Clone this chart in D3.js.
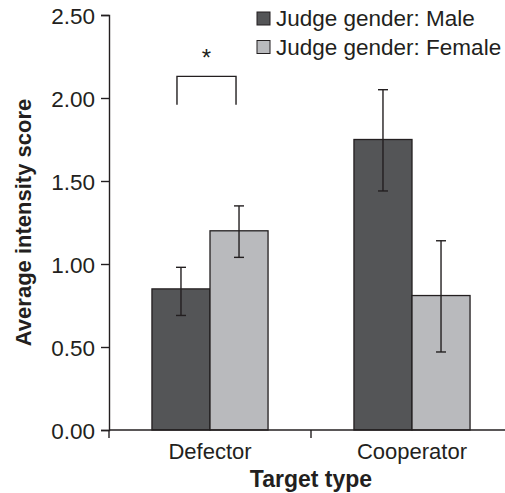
<!DOCTYPE html>
<html>
<head>
<meta charset="utf-8">
<script src="https://cdn.jsdelivr.net/npm/d3@7"></script>
<style>
  body { margin: 0; background: #fff; }
  text { font-family: "Liberation Sans", Arial, Helvetica, sans-serif; fill: #231f20; }
</style>
</head>
<body>
<script>
const categories = ["Defector", "Cooperator"];
const groups = ["Judge gender: Male", "Judge gender: Female"];
const maleValues = [0.85, 1.75];
const femaleValues = [1.20, 0.81];
const maleErrLow = [0.69, 1.44];
const maleErrHigh = [0.98, 2.05];
const femaleErrLow = [1.04, 0.47];
const femaleErrHigh = [1.35, 1.14];
const yTicks = [0, 0.5, 1.0, 1.5, 2.0, 2.5];
const bracketRange = [1.96, 2.13];
const colors = ["#545557", "#b9babd"];

const width = 505, height = 493;
const margin = {top: 15, right: -8, bottom: 63, left: 109};

let rows = [];
categories.forEach((c, i) => {
    rows.push({cat: c, group: groups[0], value: maleValues[i], lo: maleErrLow[i], hi: maleErrHigh[i]});
    rows.push({cat: c, group: groups[1], value: femaleValues[i], lo: femaleErrLow[i], hi: femaleErrHigh[i]});
});

let svg = d3.select("body")
    .append("svg")
    .attr("width", width)
    .attr("height", height);

let xScale = d3.scaleBand()
    .domain(categories)
    .range([margin.left, width - margin.right])
    .padding(0);

let x1 = d3.scaleBand()
    .domain(groups)
    .range([0, xScale.bandwidth()])
    .paddingInner(0)
    .paddingOuter(0.74);

let yScale = d3.scaleLinear()
    .domain([0, 2.5])
    .range([height - margin.bottom, margin.top]);

let color = d3.scaleOrdinal().domain(groups).range(colors);

// bars
svg.selectAll("rect.bar")
    .data(rows)
    .enter()
    .append("rect")
    .attr("class", "bar")
    .attr("x", d => xScale(d.cat) + x1(d.group))
    .attr("y", d => yScale(d.value))
    .attr("width", x1.bandwidth())
    .attr("height", d => yScale(0) - yScale(d.value))
    .attr("fill", d => color(d.group))
    .attr("stroke", "#231f20")
    .attr("stroke-width", 1.3);

// error bars
let cap = 5;
let eb = svg.selectAll("g.err")
    .data(rows)
    .enter()
    .append("g")
    .attr("class", "err")
    .attr("stroke", "#231f20")
    .attr("stroke-width", 1.4);
eb.append("line")
    .attr("x1", d => xScale(d.cat) + x1(d.group) + x1.bandwidth() / 2)
    .attr("x2", d => xScale(d.cat) + x1(d.group) + x1.bandwidth() / 2)
    .attr("y1", d => yScale(d.lo))
    .attr("y2", d => yScale(d.hi));
eb.selectAll("line.cap")
    .data(d => [d.lo, d.hi].map(v => ({d: d, v: v})))
    .enter()
    .append("line")
    .attr("class", "cap")
    .attr("x1", e => xScale(e.d.cat) + x1(e.d.group) + x1.bandwidth() / 2 - cap)
    .attr("x2", e => xScale(e.d.cat) + x1(e.d.group) + x1.bandwidth() / 2 + cap)
    .attr("y1", e => yScale(e.v))
    .attr("y2", e => yScale(e.v));

// y axis
let yAxis = svg.append("g")
    .attr("transform", "translate(" + margin.left + ",0)")
    .call(d3.axisLeft(yScale).tickValues(yTicks).tickFormat(d3.format(".2f")).tickSize(8).tickPadding(6));
yAxis.selectAll("path, line").attr("stroke", "#231f20").attr("stroke-width", 1.4);
yAxis.selectAll("text").style("font-size", "22.5px").attr("dy", "0.36em").attr("fill", "#231f20");

// x axis
let y0 = yScale(0);
svg.append("line")
    .attr("x1", margin.left).attr("x2", width - margin.right)
    .attr("y1", y0).attr("y2", y0)
    .attr("stroke", "#231f20").attr("stroke-width", 1.4);
svg.selectAll("line.xtick")
    .data(categories)
    .enter()
    .append("line")
    .attr("class", "xtick")
    .attr("x1", d => xScale(d)).attr("x2", d => xScale(d))
    .attr("y1", y0).attr("y2", y0 + 8)
    .attr("stroke", "#231f20").attr("stroke-width", 1.4);
svg.selectAll("text.xlabel")
    .data(categories)
    .enter()
    .append("text")
    .attr("class", "xlabel")
    .attr("x", d => xScale(d) + xScale.bandwidth() / 2)
    .attr("y", y0 + 29)
    .attr("text-anchor", "middle")
    .style("font-size", "22px")
    .text(d => d);

// axis titles
svg.append("text")
    .attr("x", (margin.left + width - margin.right) / 2)
    .attr("y", 487)
    .attr("text-anchor", "middle")
    .style("font-size", "23px")
    .style("font-weight", "bold")
    .text("Target type");

svg.append("text")
    .attr("transform", "translate(31," + (yScale(0) + yScale(2.5)) / 2 + ") rotate(-90)")
    .attr("text-anchor", "middle")
    .style("font-size", "22px")
    .style("font-weight", "bold")
    .text("Average intensity score");

// significance bracket
let bx1 = xScale(categories[0]) + x1(groups[0]) + x1.bandwidth() / 2 - 4;
let bx2 = xScale(categories[0]) + x1(groups[1]) + x1.bandwidth() / 2 - 3;
svg.append("path")
    .attr("d", "M" + bx1 + "," + yScale(bracketRange[0]) + "V" + yScale(bracketRange[1]) +
        "H" + bx2 + "V" + yScale(bracketRange[0]))
    .attr("fill", "none")
    .attr("stroke", "#231f20")
    .attr("stroke-width", 1.4);
svg.append("text")
    .attr("x", (bx1 + bx2) / 2)
    .attr("y", yScale(bracketRange[1]) - 10)
    .attr("text-anchor", "middle")
    .style("font-size", "24px")
    .text("*");

// legend
let legend = svg.selectAll("g.legend")
    .data(groups)
    .enter()
    .append("g")
    .attr("class", "legend")
    .attr("transform", (d, i) => "translate(257," + (12 + i * 28.5) + ")");
legend.append("rect")
    .attr("width", 13)
    .attr("height", 13)
    .attr("fill", d => color(d))
    .attr("stroke", "#231f20")
    .attr("stroke-width", 1);
legend.append("text")
    .attr("x", 19)
    .attr("y", 14)
    .style("font-size", "22.5px")
    .text(d => d);
</script>
</body>
</html>
